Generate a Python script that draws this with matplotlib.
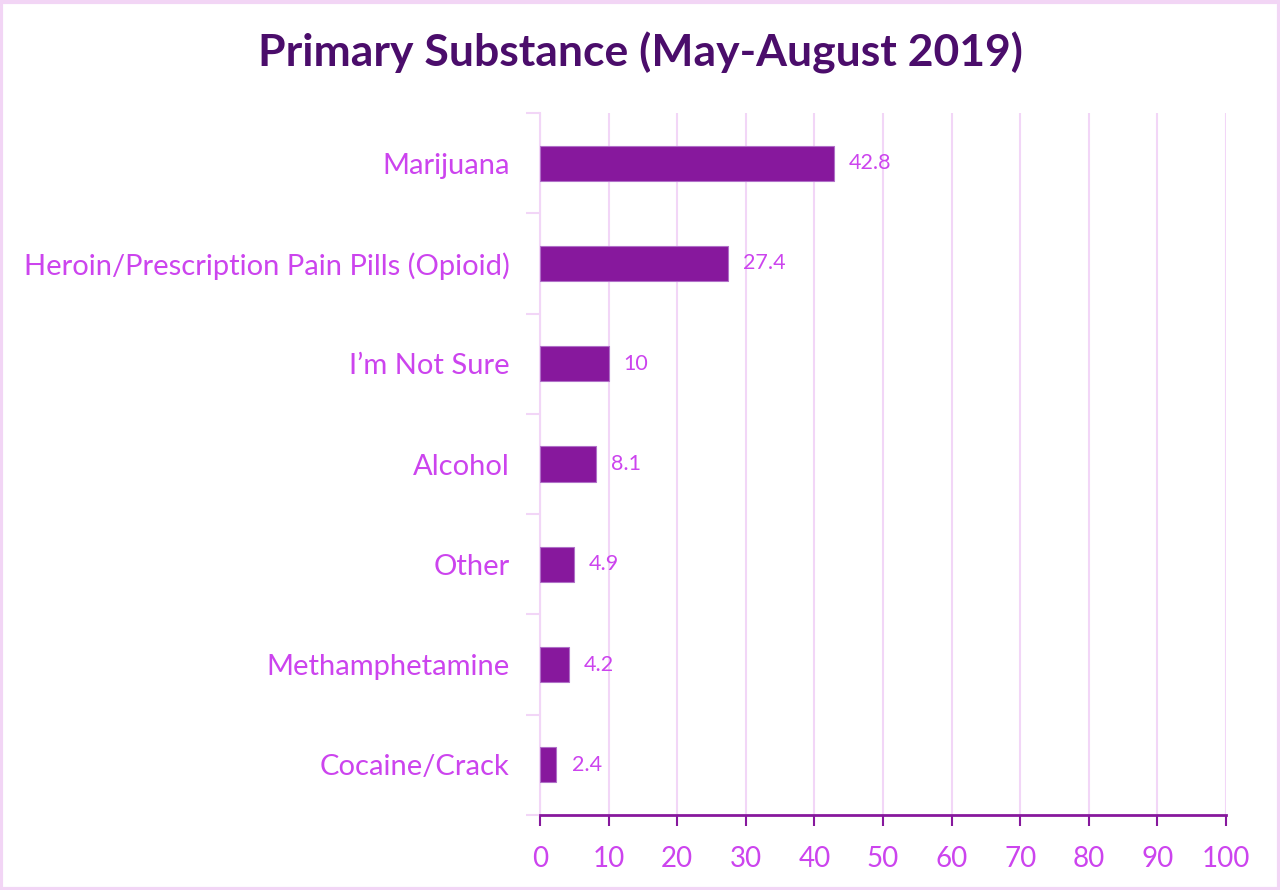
import matplotlib.pyplot as plt
from matplotlib.patches import Rectangle

# data
categories = ["Marijuana", "Heroin/Prescription Pain Pills (Opioid)", "I\u2019m Not Sure",
              "Alcohol", "Other", "Methamphetamine", "Cocaine/Crack"]
values = [42.8, 27.4, 10, 8.1, 4.9, 4.2, 2.4]
value_labels = ["42.8", "27.4", "10", "8.1", "4.9", "4.2", "2.4"]
xticks = [0, 10, 20, 30, 40, 50, 60, 70, 80, 90, 100]

bar_color = "#87189D"
text_color = "#CC44EE"
title_color = "#4B0D6B"
grid_color = "#F2D6F7"

plt.rcParams['font.family'] = ['Lato', 'DejaVu Sans']

fig = plt.figure(figsize=(12.8, 8.9), dpi=100)
fig.patches.append(Rectangle((0.001, 0.001), 0.998, 0.997, transform=fig.transFigure,
                             fill=False, edgecolor="#F2D5F5", linewidth=3))
ax = fig.add_axes([0.4219, 0.0843, 0.5359, 0.7887])

pos = list(range(len(categories)))[::-1]
ax.barh(pos, values, height=0.35, color=bar_color, edgecolor="#B070C8", linewidth=0.8, zorder=3)

for p, v, lab in zip(pos, values, value_labels):
    ax.text(v + 2.2, p, lab, va="center", ha="left", fontsize=15.5, color=text_color)

ax.set_xlim(0, 100)
ax.set_ylim(-0.5, len(categories) - 0.5)
ax.set_xticks(xticks)
ax.set_xticklabels([str(t) for t in xticks], fontsize=20, color=text_color)
ax.set_yticks(pos)
ax.set_yticklabels(categories, fontsize=21, color=text_color)
ax.set_yticks([p + 0.5 for p in range(-1, len(categories))], minor=True)

ax.tick_params(axis="y", which="major", length=0, pad=22)
ax.tick_params(axis="y", which="minor", length=10, color=grid_color, width=1.5)
ax.tick_params(axis="x", length=8, width=1.5, color=bar_color, pad=14)

ax.grid(axis="x", color=grid_color, linewidth=1.5, zorder=0)
ax.set_axisbelow(True)

for s in ["top", "right"]:
    ax.spines[s].set_visible(False)
ax.spines["left"].set_color(grid_color)
ax.spines["left"].set_linewidth(1.5)
ax.spines["bottom"].set_color(bar_color)
ax.spines["bottom"].set_linewidth(2)

fig.text(0.5, 0.94, "Primary Substance (May-August 2019)", ha="center", va="center",
         fontsize=32, fontweight="bold", color=title_color)

fig.savefig("out.png", dpi=100)
